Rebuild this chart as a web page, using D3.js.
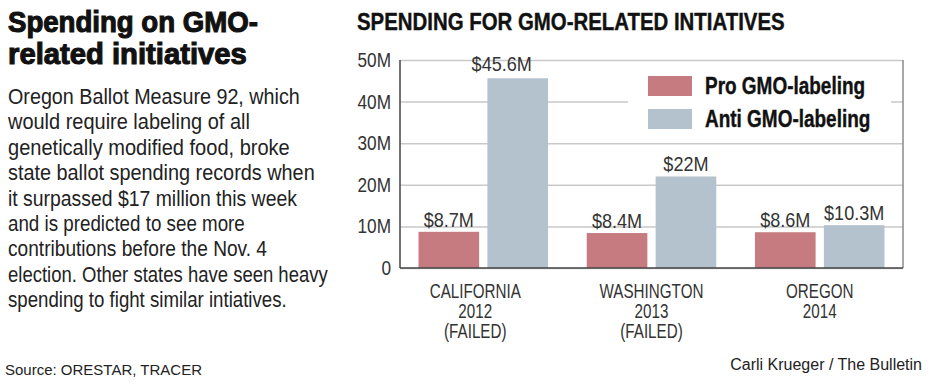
<!DOCTYPE html>
<html>
<head>
<meta charset="utf-8">
<script src="https://cdn.jsdelivr.net/npm/d3@7"></script>
<style>
  body { margin: 0; background: #fff; }
  svg { display: block; font-family: "Liberation Sans", Arial, Helvetica, sans-serif; }
</style>
</head>
<body>
<svg id="chart" width="940" height="387"></svg>
<script>
// data (millions of dollars)
const states = ["CALIFORNIA", "WASHINGTON", "OREGON"];
const stateSub = [["2012", "(FAILED)"], ["2013", "(FAILED)"], ["2014"]];
const series = ["Pro GMO-labeling", "Anti GMO-labeling"];
const proValues = [8.7, 8.4, 8.6];
const antiValues = [45.6, 22, 10.3];
const valueLabels = [["$8.7M", "$45.6M"], ["$8.4M", "$22M"], ["$8.6M", "$10.3M"]];
const yTicks = [0, 10, 20, 30, 40, 50];

const headline = ["Spending on GMO-", "related initiatives"];
const blurb = [
  "Oregon Ballot Measure 92, which",
  "would require labeling of all",
  "genetically modified food, broke",
  "state ballot spending records when",
  "it surpassed $17 million this week",
  "and is predicted to see more",
  "contributions before the Nov. 4",
  "election. Other states have seen heavy",
  "spending to fight similar intiatives."
];

const colors = { pro: "#c67b80", anti: "#b3c2cc" };

const svg = d3.select("#chart");

// squeeze text horizontally to imitate the condensed newspaper face
function squeeze(sel, f) {
  sel.each(function () {
    const w = this.getComputedTextLength();
    d3.select(this).attr("textLength", w * f).attr("lengthAdjust", "spacingAndGlyphs");
  });
}

// same idea, but with a transform so the box really gets narrower
function fitTo(sel, x, yFn, widthFn) {
  sel.each(function (d, i) {
    const w = this.getComputedTextLength();
    d3.select(this).attr("transform",
      "translate(" + x + "," + yFn(d, i) + ") scale(" + widthFn(d, i) / w + ",1)");
  });
}

// ---- left column ----
// set widths of the printed lines (condensed face has other proportions)
const headWidths = [250, 239];
const blurbWidths = [292, 242, 282, 307, 289, 237, 259, 320, 279];

const head = svg.append("g").selectAll("text")
  .data(headline)
  .enter()
  .append("text")
  .attr("font-size", 29)
  .attr("font-weight", "bold")
  .attr("fill", "#111")
  .attr("stroke", "#111")
  .attr("stroke-width", 1.1)
  .text(d => d);
fitTo(head, 8, (d, i) => 31.5 + i * 32.5, (d, i) => headWidths[i]);

const body = svg.append("g").selectAll("text")
  .data(blurb)
  .enter()
  .append("text")
  .attr("font-size", 22)
  .attr("fill", "#222")
  .text(d => d);
fitTo(body, 8, (d, i) => 104 + i * 25.4, (d, i) => blurbWidths[i]);

svg.append("text")
  .attr("x", 5)
  .attr("y", 375)
  .attr("font-size", 15)
  .attr("fill", "#222")
  .text("Source: ORESTAR, TRACER");

svg.append("text")
  .attr("x", 922)
  .attr("y", 370)
  .attr("text-anchor", "end")
  .attr("font-size", 16)
  .attr("fill", "#222")
  .text("Carli Krueger / The Bulletin");

// ---- chart ----
const title = svg.append("text")
  .attr("x", 357)
  .attr("y", 30)
  .attr("font-size", 24)
  .attr("font-weight", "bold")
  .attr("fill", "#111")
  .attr("stroke", "#111")
  .attr("stroke-width", 0.4)
  .text("SPENDING FOR GMO-RELATED INTIATIVES");
squeeze(title, 0.85);

const plot = { left: 400, right: 903, top: 60, bottom: 268 };

const x0 = d3.scaleBand()
  .domain(states)
  .range([plot.left, plot.right])
  .paddingInner(0.23)
  .paddingOuter(0.11);

const x1 = d3.scaleBand()
  .domain(series)
  .range([0, x0.bandwidth()])
  .paddingInner(0.12);

const y = d3.scaleLinear()
  .domain([0, 50])
  .range([plot.bottom, plot.top]);

// gridlines + tick labels
const yAxis = svg.append("g")
  .attr("transform", "translate(" + plot.left + ",0)")
  .call(d3.axisLeft(y)
    .tickValues(yTicks)
    .tickSize(-(plot.right - plot.left))
    .tickPadding(9)
    .tickFormat(d => (d === 0 ? "0" : d + "M")));
yAxis.select(".domain").remove();
yAxis.selectAll(".tick line")
  .attr("stroke", "#c9c9c9")
  .attr("stroke-width", 1.5);
yAxis.selectAll(".tick text")
  .attr("font-size", 20)
  .attr("font-family", "\"Liberation Sans\", Arial, sans-serif")
  .attr("fill", "#333");
squeeze(yAxis.selectAll(".tick text"), 0.86);

// frame
svg.append("line")
  .attr("x1", plot.right).attr("x2", plot.right)
  .attr("y1", plot.top).attr("y2", plot.bottom)
  .attr("stroke", "#8a8a8a")
  .attr("stroke-width", 1.5);

// legend box hides the gridline behind it
svg.append("rect")
  .attr("x", 628).attr("y", 66)
  .attr("width", 263).attr("height", 72)
  .attr("fill", "#fff");

const legend = svg.append("g").selectAll("g")
  .data(series)
  .enter()
  .append("g")
  .attr("transform", (d, i) => "translate(648," + (76 + i * 33) + ")");
legend.append("rect")
  .attr("width", 44).attr("height", 20)
  .attr("fill", (d, i) => (i === 0 ? colors.pro : colors.anti));
const legendText = legend.append("text")
  .attr("x", 57)
  .attr("y", 18)
  .attr("font-size", 24)
  .attr("font-weight", "bold")
  .attr("fill", "#111")
  .attr("stroke", "#111")
  .attr("stroke-width", 0.4)
  .text(d => d);
squeeze(legendText, 0.79);

// bars
const groups = svg.append("g").selectAll("g")
  .data(states)
  .enter()
  .append("g")
  .attr("transform", d => "translate(" + x0(d) + ",0)");

const bars = groups.selectAll("rect")
  .data((d, i) => [
    { key: series[0], value: proValues[i], label: valueLabels[i][0], color: colors.pro },
    { key: series[1], value: antiValues[i], label: valueLabels[i][1], color: colors.anti }
  ])
  .enter();

bars.append("rect")
  .attr("x", d => x1(d.key))
  .attr("y", d => y(d.value))
  .attr("width", x1.bandwidth())
  .attr("height", d => y(0) - y(d.value))
  .attr("fill", d => d.color);

// labels on bars that run up under the top line are nudged left, as printed
const valText = bars.append("text")
  .attr("x", d => x1(d.key) + x1.bandwidth() / 2 - (d.value > 40 ? 16 : 0))
  .attr("y", d => y(d.value) - (d.value > 40 ? 7 : 5))
  .attr("text-anchor", "middle")
  .attr("font-size", 21)
  .attr("fill", "#333")
  .text(d => d.label);
squeeze(valText, 0.86);

// axis lines
svg.append("line")
  .attr("x1", plot.left).attr("x2", plot.left)
  .attr("y1", plot.top).attr("y2", plot.bottom)
  .attr("stroke", "#444")
  .attr("stroke-width", 1.5);
svg.append("line")
  .attr("x1", plot.left).attr("x2", plot.right)
  .attr("y1", plot.bottom).attr("y2", plot.bottom)
  .attr("stroke", "#444")
  .attr("stroke-width", 1.5);

// category labels
const catText = svg.append("g").selectAll("text")
  .data(states)
  .enter()
  .append("text")
  .attr("x", d => x0(d) + x0.bandwidth() / 2 - (d === states[0] ? 8 : 0))
  .attr("y", 298)
  .attr("text-anchor", "middle")
  .attr("font-size", 20)
  .attr("fill", "#333");
catText.selectAll("tspan")
  .data((d, i) => [d].concat(stateSub[i]))
  .enter()
  .append("tspan")
  .attr("x", function () { return d3.select(this.parentNode).attr("x"); })
  .attr("dy", (d, i) => (i === 0 ? 0 : 20))
  .text(d => d);
squeeze(catText.selectAll("tspan"), 0.76);
</script>
</body>
</html>
